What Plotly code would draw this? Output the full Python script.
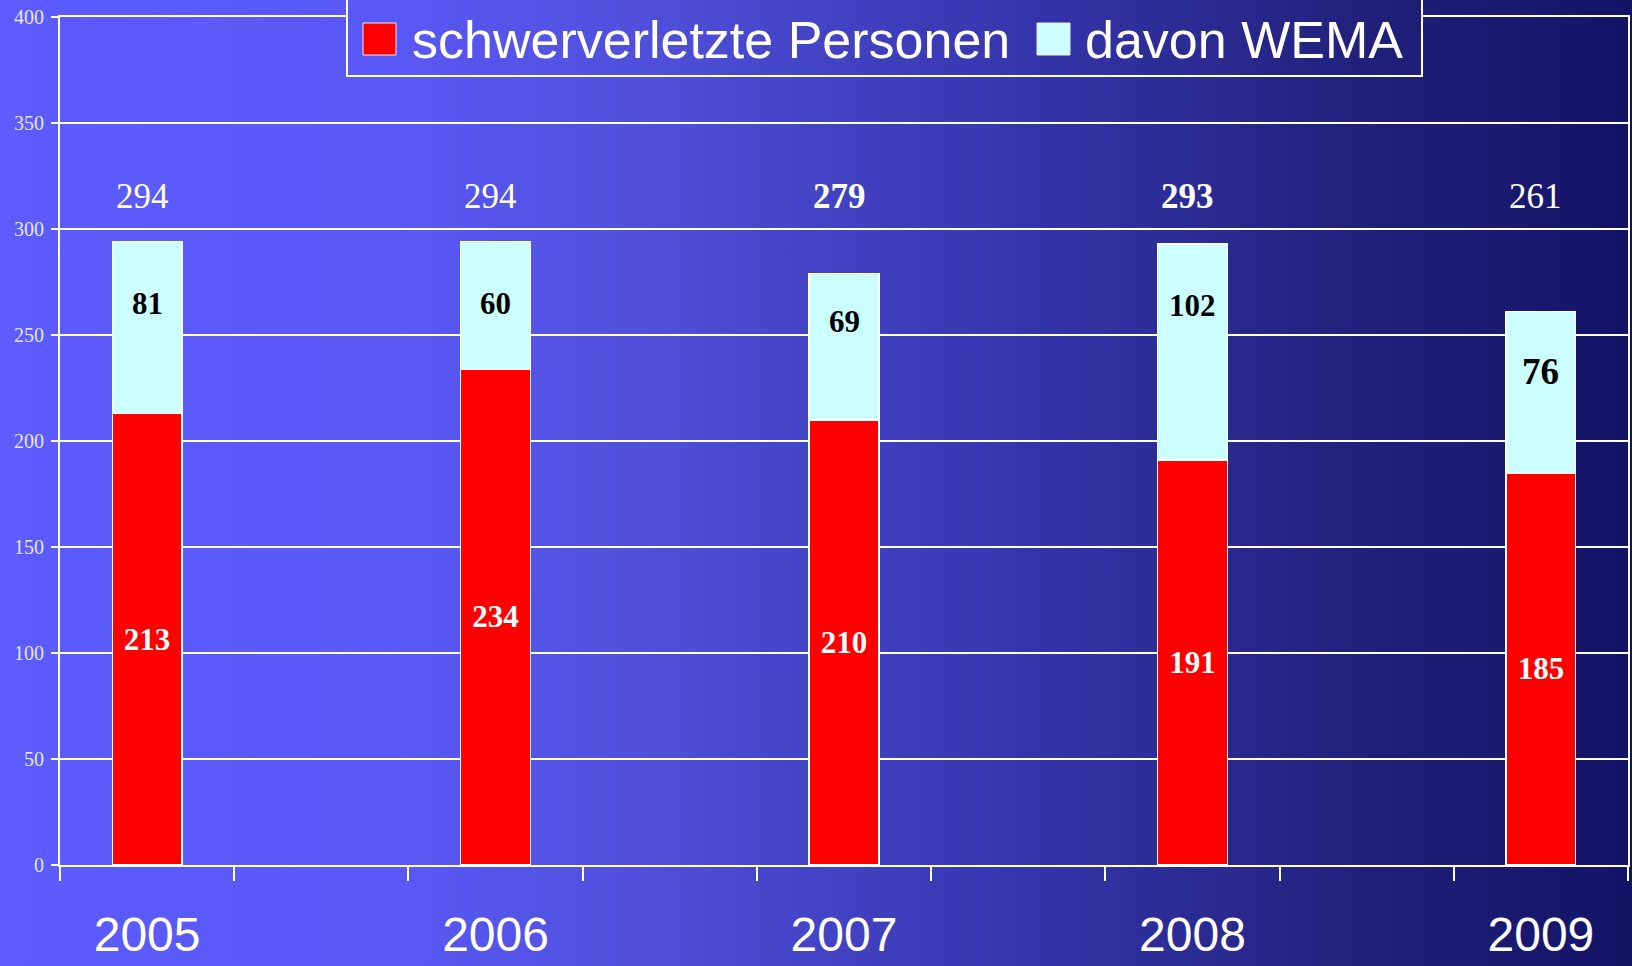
import base64
import plotly.graph_objects as go

# ---------------- data ----------------
years = ["2005", "2006", "2007", "2008", "2009"]
schwerverletzte = [213, 234, 210, 191, 185]
davon_wema = [81, 60, 69, 102, 76]
totals = [294, 294, 279, 293, 261]

# ---------------- styling helpers ----------------
W, H = 1632, 966
ML, MR, MT, MB = 60, 4, 17, 101
PW, PH = W - ML - MR, H - MT - MB

def px2x(px):
    return (px - ML) / PW

def py2y(py):
    return (H - MB - py) / PH

SERIF = "Liberation Serif, Times New Roman, serif"
SANS = "Liberation Sans, Arial, sans-serif"

stops = [(0.0, "#5C5CFF"), (0.25, "#5858F4"), (0.40, "#4F4FDA"),
         (0.62, "#3636AE"), (0.82, "#22227E"), (1.0, "#131366")]

def gradient_uri(vx, vy, vw, vh):
    st = "".join(f'<stop offset="{o}" stop-color="{c}"/>' for o, c in stops)
    svg = (f'<svg xmlns="http://www.w3.org/2000/svg" width="{vw}" height="{vh}" '
           f'viewBox="{vx} {vy} {vw} {vh}" preserveAspectRatio="none">'
           f'<defs><linearGradient id="g" gradientUnits="userSpaceOnUse" '
           f'x1="0" y1="0" x2="{W}" y2="0">{st}</linearGradient></defs>'
           f'<rect x="-200" y="-200" width="{W + 400}" height="{H + 400}" fill="url(#g)"/></svg>')
    return "data:image/svg+xml;base64," + base64.b64encode(svg.encode()).decode()

xpos = [2 * i for i in range(len(years))]
BAR_W = 0.4

fig = go.Figure()
fig.add_trace(go.Bar(
    x=xpos, y=schwerverletzte, width=BAR_W, name="schwerverletzte Personen",
    marker=dict(color="#FF0000", line=dict(color="white", width=1.5)),
    text=[str(v) for v in schwerverletzte], textposition="inside",
    insidetextanchor="middle", textangle=0, constraintext="none",
    insidetextfont=dict(family=SERIF, size=31, color="white", weight="bold"),
    showlegend=False, hoverinfo="x+y",
))
fig.add_trace(go.Bar(
    x=xpos, y=davon_wema, width=BAR_W, name="davon WEMA",
    marker=dict(color="#CCFFFF", line=dict(color="white", width=1.5)),
    showlegend=False, hoverinfo="x+y",
))

annotations = []
# WEMA labels (placed a fixed distance below the top of each bar)
wema_sizes = [31, 31, 31, 31, 37]
wema_shift = [-62, -62, -48, -62, -60]
for x, t, v, s, sh in zip(xpos, totals, davon_wema, wema_sizes, wema_shift):
    annotations.append(dict(x=x, y=t, xref="x", yref="y", text=f"<b>{v}</b>",
                            showarrow=False, yshift=sh,
                            font=dict(family=SERIF, size=s, color="black")))
# totals above bars, all on one line
TOTAL_Y = 315.5
total_bold = [False, False, True, True, False]
for x, t, b in zip(xpos, totals, total_bold):
    annotations.append(dict(x=x, y=TOTAL_Y, xref="x", yref="y",
                            text=f"<b>{t}</b>" if b else str(t), showarrow=False,
                            xshift=-5,
                            font=dict(family=SERIF, size=35, color="white")))

# manual legend
LEG = dict(x0=347, x1=1422, y0=-2, y1=76)
legend_items = [("schwerverletzte Personen", "#FF0000", 363, 413),
                ("davon WEMA", "#CCFFFF", 1037, 1086)]
shapes = [dict(type="rect", xref="paper", yref="paper",
               x0=px2x(LEG["x0"]), x1=px2x(LEG["x1"]),
               y0=py2y(LEG["y1"]), y1=py2y(LEG["y0"]),
               line=dict(color="white", width=2), fillcolor="rgba(0,0,0,0)",
               layer="above")]
for name, col, sx, tx in legend_items:
    shapes.append(dict(type="rect", xref="paper", yref="paper",
                       x0=px2x(sx), x1=px2x(sx + 33), y0=py2y(55), y1=py2y(23),
                       fillcolor=col, line=dict(color="#F0E8F0", width=1),
                       layer="above"))
    annotations.append(dict(x=px2x(tx - 3), y=py2y(40), xref="paper", yref="paper",
                            xanchor="left", yanchor="middle", text=name,
                            showarrow=False,
                            font=dict(family=SANS, size=52, color="white")))

images = [
    dict(source=gradient_uri(0, 0, W, H), xref="paper", yref="paper",
         x=px2x(0), y=py2y(0), sizex=W / PW, sizey=H / PH,
         xanchor="left", yanchor="top", sizing="stretch", layer="below"),
    dict(source=gradient_uri(LEG["x0"], LEG["y0"], LEG["x1"] - LEG["x0"], LEG["y1"] - LEG["y0"]),
         xref="paper", yref="paper", x=px2x(LEG["x0"]), y=py2y(LEG["y0"]),
         sizex=(LEG["x1"] - LEG["x0"]) / PW, sizey=(LEG["y1"] - LEG["y0"]) / PH,
         xanchor="left", yanchor="top", sizing="stretch", layer="above"),
]

fig.update_layout(
    width=W, height=H, margin=dict(l=ML, r=MR, t=MT, b=MB, autoexpand=False),
    barmode="stack", paper_bgcolor="#3C3CC0", plot_bgcolor="rgba(0,0,0,0)",
    showlegend=False, annotations=annotations, shapes=shapes, images=images,
    xaxis=dict(range=[-0.5, 8.5], tickmode="array", tickvals=xpos, ticktext=years,
               ticks="", showgrid=False, zeroline=False, automargin=False,
               showline=True, linecolor="white", linewidth=2, mirror=True,
               tickfont=dict(family=SANS, size=48, color="white"),
               ticklabelstandoff=26,
               minor=dict(tickmode="array",
                          tickvals=[i - 0.5 for i in range(10)],
                          ticks="outside", ticklen=14, tickwidth=2,
                          tickcolor="white", showgrid=False)),
    yaxis=dict(range=[0, 400], tickmode="array", tickvals=list(range(0, 401, 50)),
               showgrid=True, gridcolor="white", gridwidth=2, zeroline=False,
               automargin=False,
               showline=True, linecolor="white", linewidth=2, mirror=True,
               ticks="outside", ticklen=7, tickwidth=2, tickcolor="white",
               tickfont=dict(family=SERIF, size=20, color="#E6E6FF"),
               ticklabelstandoff=3),
)

fig.write_html("out.html", config={"displayModeBar": False},
               post_script="document.body.style.margin='0';document.body.style.overflow='hidden';")
